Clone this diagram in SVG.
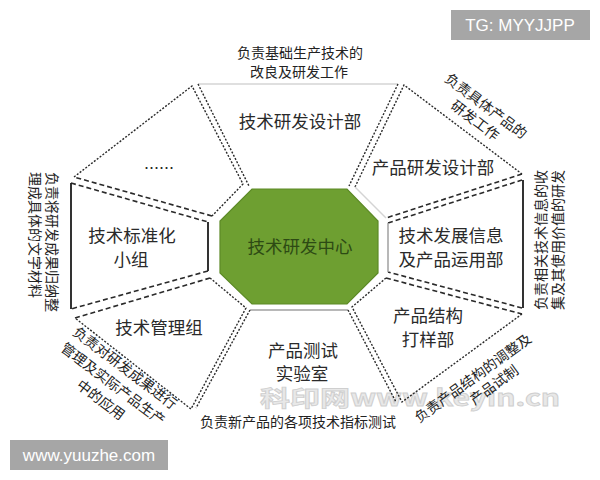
<svg xmlns="http://www.w3.org/2000/svg" width="600" height="480" viewBox="0 0 600 480">
<style>
.dot{fill:none;stroke:#2a2a2a;stroke-width:1.4;stroke-dasharray:2 1.6}
.dash{fill:none;stroke:#2a2a2a;stroke-width:1.6;stroke-dasharray:5 3}
.solid{fill:none;stroke:#1c1c1c;stroke-width:1.8}
.gray{fill:none;stroke:#a0a0a0;stroke-width:1.5}
.lgray{fill:none;stroke:#d4d4d4;stroke-width:1.5}
.lbl{font-family:"Noto Sans CJK SC","Noto Sans",sans-serif;font-size:17.5px;fill:#2a2a2a;text-anchor:middle}
.note{font-family:"Noto Sans CJK SC","Noto Sans",sans-serif;font-size:14px;fill:#222;text-anchor:middle}
.wm{font-family:"Liberation Sans",Arial,sans-serif;font-size:17px;fill:#ffffff}
</style>
<rect width="600" height="480" fill="#ffffff"/>

<!-- faint watermark -->
<text x="260" y="406" textLength="300" lengthAdjust="spacingAndGlyphs" style="font-family:'Noto Sans CJK SC','Liberation Sans',sans-serif;font-size:22px;font-weight:bold;fill:#e8e8e8;stroke:#cfcfcf;stroke-width:0.8">科印网www.keyin.cn</text>

<g id="node-upper-left">
  <polyline class="dot" points="74,177 192,86 243,184 212,216"/>
  <line class="dash" x1="212" y1="216" x2="74" y2="177"/>
  <text x="159" y="169" style="font-family:'Liberation Sans',sans-serif;font-size:18px;fill:#2a2a2a;text-anchor:middle">......</text>
</g>

<g id="node-top">
  <line class="lgray" x1="198" y1="84" x2="398" y2="84"/>
  <line class="dot" x1="198" y1="84" x2="249" y2="186"/>
  <line class="dot" x1="398" y1="84" x2="349" y2="186"/>
  <text class="lbl" x="300" y="128">技术研发设计部</text>
</g>

<g id="node-upper-right">
  <polyline class="dot" points="355,187 404,85 522,174"/>
  <line class="dash" x1="522" y1="174" x2="386" y2="218"/>
  <line class="lgray" x1="386" y1="218" x2="355" y2="187"/>
  <text class="lbl" x="433" y="174">产品研发设计部</text>
</g>

<g id="node-right">
  <line class="dash" x1="388" y1="223" x2="522" y2="180"/>
  <line class="solid" x1="523" y1="180" x2="523" y2="308"/>
  <line class="dash" x1="522" y1="308" x2="388" y2="272"/>
  <line class="gray" x1="388" y1="223" x2="388" y2="272"/>
  <text class="lbl" x="451" y="242">技术发展信息</text>
  <text class="lbl" x="451" y="266">及产品运用部</text>
</g>

<g id="node-lower-right">
  <line class="dash" x1="386" y1="278" x2="522" y2="314"/>
  <polyline class="dot" points="522,314 402,402 352,307 386,278"/>
  <text class="lbl" x="428" y="322">产品结构</text>
  <text class="lbl" x="428" y="346">打样部</text>
</g>

<g id="node-bottom">
  <line class="gray" x1="250" y1="310" x2="348" y2="310"/>
  <line class="dot" x1="348" y1="310" x2="396" y2="402"/>
  <line class="dot" x1="250" y1="310" x2="196" y2="408"/>
  <text class="lbl" x="303" y="357">产品测试</text>
  <text class="lbl" x="302" y="380">实验室</text>
</g>

<g id="node-lower-left">
  <line class="dash" x1="75" y1="318" x2="210" y2="278"/>
  <polyline class="dot" points="210,278 246,308 191,409 75,318"/>
  <text class="lbl" x="159" y="334">技术管理组</text>
</g>

<g id="node-left">
  <line class="dash" x1="71" y1="183" x2="208" y2="222"/>
  <line class="solid" x1="208" y1="222" x2="208" y2="271"/>
  <line class="dash" x1="208" y1="271" x2="71" y2="309"/>
  <line class="solid" x1="71" y1="183" x2="71" y2="309"/>
  <text class="lbl" x="132" y="242">技术标准化</text>
  <text class="lbl" x="131" y="266">小组</text>
</g>

<g id="node-center">
  <polygon points="252,189 347,189 378,221 378,273 347,304 252,304 220,273 220,221" fill="#6e9f31" stroke="#5d8a27" stroke-width="1.2"/>
  <text x="300" y="253" style="font-family:'Noto Sans CJK SC','Noto Sans',sans-serif;font-size:17.5px;fill:#2d4a14;text-anchor:middle">技术研发中心</text>
</g>

<g id="annotations">
  <text class="note" x="300" y="58">负责基础生产技术的</text>
  <text class="note" x="299" y="77">改良及研发工作</text>
  <text class="note" transform="translate(486,106) rotate(37)"><tspan x="0" y="5">负责具体产品的</tspan><tspan x="0" y="23">研发工作</tspan></text>
  <text class="note" style="text-anchor:start" transform="translate(541,310) rotate(-90)"><tspan x="0" y="5">负责相关技术信息的收</tspan><tspan x="0" y="22">集及其使用价值的研发</tspan></text>
  <text class="note" style="text-anchor:start" transform="translate(52,172) rotate(90)"><tspan x="0" y="5">负责将研发成果归纳整</tspan><tspan x="0" y="22">理成具体的文字材料</tspan></text>
  <text class="note" transform="translate(125,368) rotate(37)"><tspan x="0" y="5">负责对研发成果进行</tspan><tspan x="0" y="25">管理及实际产品生产</tspan><tspan x="0" y="45">中的应用</tspan></text>
  <text class="note" transform="translate(473,378) rotate(-36)"><tspan x="0" y="5">负责产品结构的调整及</tspan><tspan x="13" y="23">产品试制</tspan></text>
  <text class="note" x="298" y="427">负责新产品的各项技术指标测试</text>
</g>

<g id="badges">
  <rect x="451" y="10" width="139" height="30" fill="#a6a6a6"/>
  <text class="wm" x="520" y="31" text-anchor="middle">TG: MYYJJPP</text>
  <rect x="10" y="440" width="158" height="30" fill="#a6a6a6"/>
  <text class="wm" x="89" y="461" text-anchor="middle">www.yuuzhe.com</text>
</g>
</svg>
